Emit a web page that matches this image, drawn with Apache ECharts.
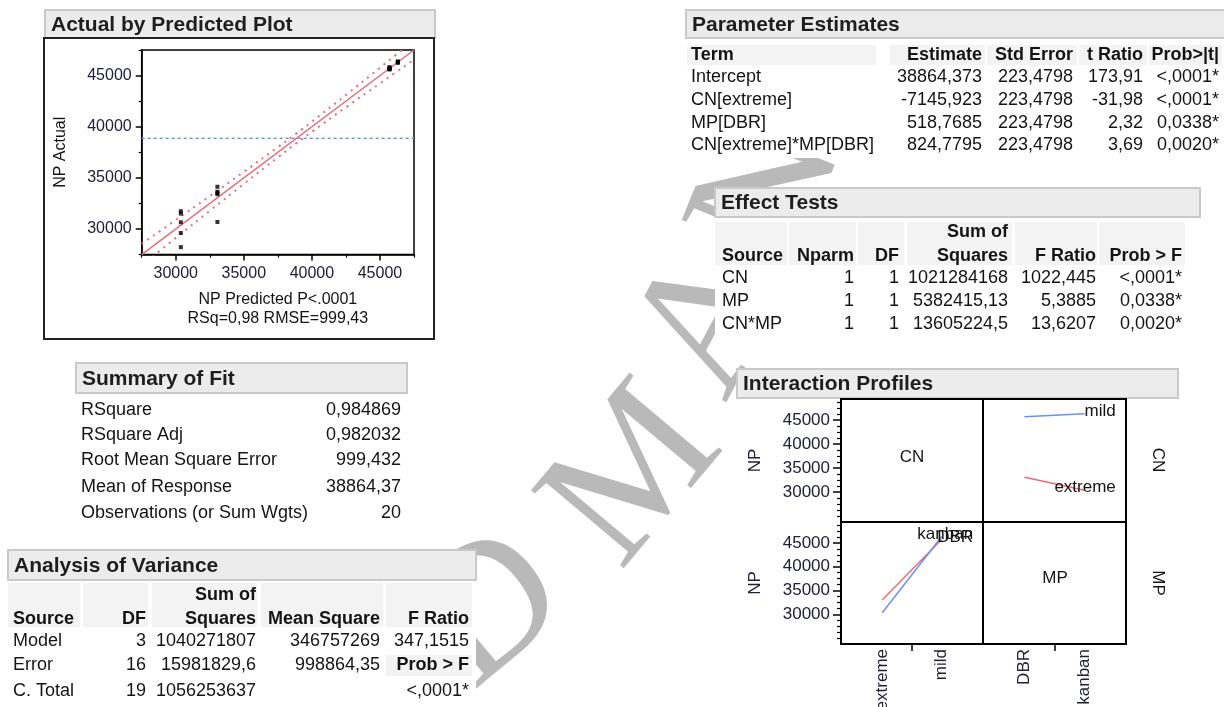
<!DOCTYPE html>
<html><head><meta charset="utf-8">
<script src="https://cdn.jsdelivr.net/npm/echarts@6/dist/echarts.min.js"></script>
<style>html,body{margin:0;padding:0;background:#fff;}#c{width:1224px;height:707px;}</style>
</head><body><div id="c"></div>
<script>
// ================= DATA =================
// Actual by Predicted plot
const groupPredicted = [30374.9, 33062.0, 45704.3, 46316.3];
const groupActual = [
  [31740, 31510, 30660, 29610, 28230],
  [34130, 33640, 33520, 33400, 30690],
  [45820, 45760, 45700, 45650, 45590],
  [46380, 46340, 46310, 46290, 46260]
];
const meanResponse = 38864.37;
const fitLineX = [27500, 47500];
const bandX =     [27500, 30000, 32500, 35000, 37500, 38864, 40000, 42500, 45000, 47500];
const bandUpper = [28550, 30880, 33220, 35590, 38000, 39344, 40500, 43100, 45760, 48450];
const bandLower = [26450, 29120, 31780, 34410, 37000, 38384, 39500, 41900, 44240, 46550];
const apTicks = [30000, 35000, 40000, 45000];
const apMinorTicks = [27500, 32500, 37500, 42500, 47500];
const apXName = 'NP Predicted P<.0001';
const apXName2 = 'RSq=0,98 RMSE=999,43';
const apYName = 'NP Actual';

// Summary of Fit
const sfLabels = ['RSquare', 'RSquare Adj', 'Root Mean Square Error', 'Mean of Response', 'Observations (or Sum Wgts)'];
const sfValues = ['0,984869', '0,982032', '999,432', '38864,37', '20'];

// Analysis of Variance
const avHeaders = ['Source', 'DF', 'Squares', 'Mean Square', 'F Ratio'];
const avSource = ['Model', 'Error', 'C. Total'];
const avDF = ['3', '16', '19'];
const avSS = ['1040271807', '15981829,6', '1056253637'];
const avMS = ['346757269', '998864,35', ''];
const avF = ['347,1515', 'Prob > F', '<,0001*'];

// Parameter Estimates
const peHeaders = ['Term', 'Estimate', 'Std Error', 't Ratio', 'Prob>|t|'];
const peTerm = ['Intercept', 'CN[extreme]', 'MP[DBR]', 'CN[extreme]*MP[DBR]'];
const peEstimate = ['38864,373', '-7145,923', '518,7685', '824,7795'];
const peStdError = ['223,4798', '223,4798', '223,4798', '223,4798'];
const peTRatio = ['173,91', '-31,98', '2,32', '3,69'];
const peProb = ['<,0001*', '<,0001*', '0,0338*', '0,0020*'];

// Effect Tests
const etHeaders = ['Source', 'Nparm', 'DF', 'Squares', 'F Ratio', 'Prob > F'];
const etSource = ['CN', 'MP', 'CN*MP'];
const etNparm = ['1', '1', '1'];
const etDF = ['1', '1', '1'];
const etSS = ['1021284168', '5382415,13', '13605224,5'];
const etF = ['1022,445', '5,3885', '13,6207'];
const etProb = ['<,0001*', '0,0338*', '0,0020*'];

// Interaction Profiles (cell means of NP)
const cnLevels = ['extreme', 'mild'];
const mpLevels = ['DBR', 'kanban'];
const npExtreme = [33062.0, 30374.9];   // DBR, kanban
const npMild = [45704.3, 46316.3];      // DBR, kanban
const ipTicks = [30000, 35000, 40000, 45000];
const ipMinorTicks = [25000, 26250, 27500, 28750, 31250, 32500, 33750, 36250, 37500, 38750, 41250, 42500, 43750, 46250, 47500, 48750];

// Background watermark letters
const watermarkLetters = ['D', 'M', 'A', 'N'];

// ================= STYLE =================
const FONT = '"Liberation Sans", Arial, sans-serif';
const SERIF = '"Liberation Serif", "Times New Roman", serif';
const TXT = '#141414';
const AXT = '#20203a';
const RED = '#ec6a7c';
const BLUE = '#6b90f0';

function T(x, y, s, o) {
  o = o || {};
  return { type: 'text', x: x, y: y, z: o.z || 20, rotation: o.rot || 0,
    style: { text: s, fill: o.color || TXT, font: (o.bold ? 'bold ' : '') + (o.size || 18) + 'px ' + (o.family || FONT),
      align: o.align || 'left', verticalAlign: 'middle' } };
}
function R(x, y, w, h, fill, stroke, lw) {
  return { type: 'rect', z: 5, shape: { x: x, y: y, width: w, height: h },
    style: { fill: fill || 'none', stroke: stroke || 'none', lineWidth: lw || 0 } };
}
function header(x, y, w, h, title) {
  return [R(x, y, w, h, '#ececec', '#c9c9c9', 2), T(x + 6, y + h / 2 + 1, title, { bold: true, size: 21, color: '#1e1e1e' })];
}

const G = [];
// watermark (behind everything)
const wmPos = [[492, 612, 40], [636, 478, 50], [714, 322, 62], [772, 190, 68]];
watermarkLetters.forEach((ch, i) => G.push(T(wmPos[i][0], wmPos[i][1], ch,
  { size: 185, family: SERIF, color: '#b9b9b9', align: 'center', z: 1, rot: wmPos[i][2] * Math.PI / 180 })));

// Actual by Predicted
G.push(...header(45, 10, 390, 28, 'Actual by Predicted Plot'));
G.push(R(44, 38, 390, 301, '#fff', '#222', 2));

// Summary of Fit
G.push(R(76, 393, 332, 130, '#fff'));
G.push(...header(76, 363, 331, 30, 'Summary of Fit'));
const sfY = [410, 435, 460, 487, 513];
sfLabels.forEach((s, i) => { G.push(T(81, sfY[i], s)); G.push(T(401, sfY[i], sfValues[i], { align: 'right' })); });

// Analysis of Variance
G.push(R(8, 580, 468, 127, '#fff'));
G.push(...header(8, 550, 468, 30, 'Analysis of Variance'));
[[8, 72], [83, 65], [152, 105], [261, 122], [386, 86]].forEach(c => G.push(R(c[0], 583, c[1], 44, '#f3f3f3')));
G.push(R(386, 655, 86, 21, '#f3f3f3'));
G.push(T(256, 595, 'Sum of', { bold: true, align: 'right' }));
const avCols = [[13, 'left'], [146, 'right'], [256, 'right'], [380, 'right'], [469, 'right']];
avHeaders.forEach((h, j) => G.push(T(avCols[j][0], 619, h, { bold: true, align: avCols[j][1] })));
const avY = [641, 665, 691];
avSource.forEach((s, i) => {
  const row = [s, avDF[i], avSS[i], avMS[i], avF[i]];
  row.forEach((v, j) => G.push(T(avCols[j][0], avY[i], v, { align: avCols[j][1], bold: v === 'Prob > F' })));
});

// Parameter Estimates
G.push(R(686, 38, 538, 120, '#fff'));
G.push(...header(686, 10, 545, 28, 'Parameter Estimates'));
[[687, 189], [890, 95], [987, 90], [1079, 68], [1149, 73]].forEach(c => G.push(R(c[0], 45, c[1], 20, '#f3f3f3')));
const peCols = [[691, 'left'], [982, 'right'], [1073, 'right'], [1143, 'right'], [1219, 'right']];
peHeaders.forEach((h, j) => G.push(T(peCols[j][0], 55, h, { bold: true, align: peCols[j][1] })));
const peY = [77, 100, 123, 145];
peTerm.forEach((s, i) => {
  const row = [s, peEstimate[i], peStdError[i], peTRatio[i], peProb[i]];
  row.forEach((v, j) => G.push(T(peCols[j][0], peY[i], v, { align: peCols[j][1] })));
});

// Effect Tests
G.push(R(715, 217, 485, 118, '#fff'));
G.push(...header(715, 188, 485, 29, 'Effect Tests'));
[[715, 72], [789, 67], [858, 46], [907, 105], [1015, 82], [1099, 86]].forEach(c => G.push(R(c[0], 222, c[1], 43, '#f3f3f3')));
G.push(T(1008, 232, 'Sum of', { bold: true, align: 'right' }));
const etCols = [[722, 'left'], [854, 'right'], [899, 'right'], [1008, 'right'], [1096, 'right'], [1182, 'right']];
etHeaders.forEach((h, j) => G.push(T(etCols[j][0], 256, h, { bold: true, align: etCols[j][1] })));
const etY = [278, 301, 324];
etSource.forEach((s, i) => {
  const row = [s, etNparm[i], etDF[i], etSS[i], etF[i], etProb[i]];
  row.forEach((v, j) => G.push(T(etCols[j][0], etY[i], v, { align: etCols[j][1] })));
});

// Interaction Profiles
G.push(R(737, 398, 441, 309, '#fff'));
G.push(...header(737, 369, 441, 29, 'Interaction Profiles'));
G.push(T(912, 457, 'CN', { size: 17, align: 'center' }));
G.push(T(1055, 578, 'MP', { size: 17, align: 'center' }));
G.push(T(1158, 460, 'CN', { size: 17, align: 'center', rot: -Math.PI / 2 }));
G.push(T(1158, 583, 'MP', { size: 17, align: 'center', rot: -Math.PI / 2 }));

// ================= CHART =================
const scatterData = [];
groupPredicted.forEach((p, g) => groupActual[g].forEach(a => scatterData.push([p, a])));

const axLine = { show: true, onZero: false, lineStyle: { color: '#000', width: 1.5 } };
const noLine = { show: false, onZero: false };
const lblStyle = (size) => ({ fontSize: size, fontFamily: FONT, color: AXT });
const plain = v => String(v);

function ipLine(name, vals, color, xi, yi) {
  return {
    type: 'line', name: name, xAxisIndex: xi, yAxisIndex: yi, symbol: 'circle', symbolSize: 1, showSymbol: true,
    itemStyle: { color: color }, lineStyle: { color: color, width: 1.5 }, silent: true, z: 4,
    data: vals.map((v, i) => i === vals.length - 1
      ? { value: [i, v], label: { show: true, formatter: name, position: [32, -2], align: 'right', verticalAlign: 'middle', fontSize: 17, fontFamily: FONT, color: TXT } }
      : [i, v])
  };
}
function catAxis(gi, labels) {
  return { type: 'value', gridIndex: gi, position: 'bottom', min: -0.7, max: 1.7, axisLine: axLine, splitLine: { show: false },
    axisTick: { show: true, customValues: [0.5], length: 7, lineStyle: { color: '#000', width: 1.5 } },
    axisLabel: { customValues: [0, 1], rotate: 90, margin: 5, formatter: v => labels[Math.round(v)], ...lblStyle(17) } };
}
function ipY(gi, withLabels, minor) {
  if (!withLabels) return { type: 'value', gridIndex: gi, min: 23750, max: 49400, show: false, axisLine: noLine, splitLine: { show: false } };
  if (minor) return { type: 'value', gridIndex: gi, position: 'left', min: 23750, max: 49400, axisLine: noLine, splitLine: { show: false },
    axisTick: { customValues: ipMinorTicks, length: 4, lineStyle: { color: '#000', width: 1.2 } }, axisLabel: { show: false } };
  return { type: 'value', gridIndex: gi, position: 'left', min: 23750, max: 49400, axisLine: axLine, splitLine: { show: false },
    axisTick: { customValues: ipTicks, length: 8, lineStyle: { color: '#000', width: 1.5 } },
    axisLabel: { customValues: ipTicks, margin: 11, formatter: plain, ...lblStyle(17) },
    name: 'NP', nameLocation: 'middle', nameGap: 77, nameRotate: 90, nameTextStyle: lblStyle(17) };
}

const gridBase = { show: true, borderColor: '#000', borderWidth: 1.5, backgroundColor: 'rgba(0,0,0,0)', containLabel: false, outerBoundsMode: 'none', z: 10 };
const option = {
  animation: false,
  backgroundColor: '#fff',
  grid: [
    { ...gridBase, left: 141.7, top: 50, width: 272.3, height: 204.6 },
    { ...gridBase, left: 841, top: 399, width: 142, height: 123, borderWidth: 2 },
    { ...gridBase, left: 983, top: 399, width: 143, height: 123, borderWidth: 2 },
    { ...gridBase, left: 841, top: 522, width: 142, height: 122, borderWidth: 2 },
    { ...gridBase, left: 983, top: 522, width: 143, height: 122, borderWidth: 2 }
  ],
  xAxis: [
    { type: 'value', gridIndex: 0, position: 'bottom', min: 27500, max: 47500, axisLine: axLine, splitLine: { show: false }, z: 10,
      axisTick: { customValues: apTicks, length: 6, lineStyle: { color: '#000', width: 1.5 } },
      axisLabel: { customValues: apTicks, margin: 11, formatter: plain, ...lblStyle(16) },
      name: apXName + '\n' + apXName2, nameLocation: 'middle', nameGap: 35,
      nameTextStyle: { ...lblStyle(16), color: TXT, lineHeight: 19 } },
    { type: 'value', gridIndex: 0, position: 'bottom', min: 27500, max: 47500, axisLine: noLine, splitLine: { show: false }, z: 10,
      axisTick: { customValues: apMinorTicks, length: 3, lineStyle: { color: '#000', width: 1.2 } }, axisLabel: { show: false } },
    { type: 'value', gridIndex: 1, min: -0.7, max: 1.7, show: false, axisLine: noLine, splitLine: { show: false } },
    { type: 'value', gridIndex: 2, min: -0.7, max: 1.7, show: false, axisLine: noLine, splitLine: { show: false } },
    { ...catAxis(3, cnLevels), z: 10 },
    { ...catAxis(4, mpLevels), z: 10 }
  ],
  yAxis: [
    { type: 'value', gridIndex: 0, position: 'left', min: 27500, max: 47500, axisLine: axLine, splitLine: { show: false }, z: 10,
      axisTick: { customValues: apTicks, length: 6, lineStyle: { color: '#000', width: 1.5 } },
      axisLabel: { customValues: apTicks, margin: 10, formatter: plain, ...lblStyle(16) },
      name: apYName, nameLocation: 'middle', nameGap: 73, nameRotate: 90, nameTextStyle: { ...lblStyle(16), color: TXT } },
    { type: 'value', gridIndex: 0, position: 'left', min: 27500, max: 47500, axisLine: noLine, splitLine: { show: false }, z: 10,
      axisTick: { customValues: apMinorTicks, length: 3, lineStyle: { color: '#000', width: 1.2 } }, axisLabel: { show: false } },
    { ...ipY(1, true, false), z: 10 }, { ...ipY(1, true, true), z: 10 },
    ipY(2, false),
    { ...ipY(3, true, false), z: 10 }, { ...ipY(3, true, true), z: 10 },
    ipY(4, false)
  ],
  series: [
    { type: 'line', name: 'upper', xAxisIndex: 0, yAxisIndex: 0, smooth: true, symbol: 'none', silent: true, z: 12,
      lineStyle: { color: RED, width: 2, type: [2, 5] }, data: bandX.map((x, i) => [x, bandUpper[i]]) },
    { type: 'line', name: 'lower', xAxisIndex: 0, yAxisIndex: 0, smooth: true, symbol: 'none', silent: true, z: 12,
      lineStyle: { color: RED, width: 2, type: [2, 5] }, data: bandX.map((x, i) => [x, bandLower[i]]) },
    { type: 'line', name: 'fit', xAxisIndex: 0, yAxisIndex: 0, symbol: 'none', silent: true, z: 12,
      lineStyle: { color: RED, width: 1.5 }, data: fitLineX.map(x => [x, x]) },
    { type: 'line', name: 'mean', xAxisIndex: 0, yAxisIndex: 0, symbol: 'none', silent: true, z: 12,
      lineStyle: { color: BLUE, width: 1.5, type: [3, 3] }, data: fitLineX.map(x => [x, meanResponse]) },
    { type: 'scatter', name: 'obs', xAxisIndex: 0, yAxisIndex: 0, symbol: 'rect', symbolSize: 4, silent: true, z: 13,
      itemStyle: { color: '#000' }, data: scatterData },
    { ...ipLine('mild', npMild, BLUE, 3, 4), z: 12 },
    { ...ipLine('extreme', npExtreme, RED, 3, 4), z: 12 },
    { ...ipLine('DBR', [npExtreme[0], npMild[0]], RED, 4, 5), z: 12 },
    { ...ipLine('kanban', [npExtreme[1], npMild[1]], BLUE, 4, 5), z: 12 }
  ],
  graphic: { elements: G }
};
const chart = echarts.init(document.getElementById('c'), null, { renderer: 'canvas' });
chart.setOption(option);
</script>
</body></html>
